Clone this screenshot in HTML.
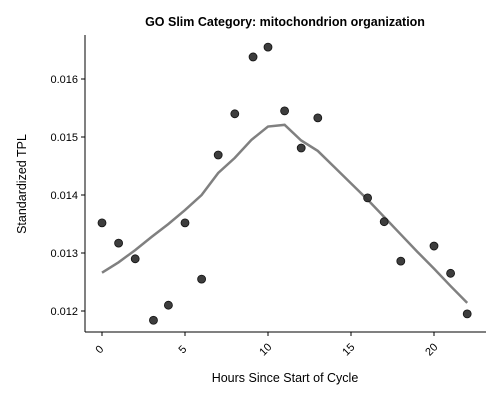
<!DOCTYPE html>
<html><head><meta charset="utf-8"><style>body{margin:0;background:#fff}svg{display:block;font-family:"Liberation Sans","DejaVu Sans",sans-serif}</style></head>
<body>
<svg id="chart" width="500" height="400">
<text x="285" y="26" text-anchor="middle" font-size="12.5" font-weight="bold">GO Slim Category: mitochondrion organization</text>
<line x1="85" y1="35" x2="85" y2="332" stroke="#000" stroke-width="1"/>
<line x1="85" y1="332" x2="486" y2="332" stroke="#000" stroke-width="1"/>
<text x="285" y="382" text-anchor="middle" font-size="12.5">Hours Since Start of Cycle</text>
<text transform="translate(26,184) rotate(-90)" text-anchor="middle" font-size="12.5">Standardized TPL</text>
<g id="ticks"></g><g id="line"></g><g id="points"></g>
</svg>
<script>
const xTicks=[0,5,10,15,20];
const yTicks=[0.012,0.013,0.014,0.015,0.016];
const yTickLabels=["0.012","0.013","0.014","0.015","0.016"];
const pointHours=[0,1,2,3.1,4,5,6,7,8,9.1,10,11,12,13,16,17,18,20,21,22];
const pointValues=[0.01352,0.01317,0.0129,0.01184,0.0121,0.01352,0.01255,0.01469,0.0154,0.01638,0.01655,0.01545,0.01481,0.01533,0.01395,0.01354,0.01286,0.01312,0.01265,0.01195];
const fitHours=[0,1,2,3,4,5,6,7,8,9,10,11,12,13,14,15,16,17,18,19,20,21,22];
const fitValues=[0.01266,0.01284,0.01305,0.01328,0.0135,0.01374,0.014,0.01438,0.01464,0.01495,0.01518,0.01521,0.01494,0.01476,0.01448,0.0142,0.01392,0.01362,0.01332,0.01302,0.01273,0.01243,0.01214];
const NS="http://www.w3.org/2000/svg";
const xs=h=>102+h*16.6;
const ys=v=>311-(v-0.012)*58000;
function mk(t,a,p){const e=document.createElementNS(NS,t);for(const k in a)e.setAttribute(k,a[k]);p.appendChild(e);return e;}
const tg=document.getElementById('ticks');
xTicks.forEach(t=>{
 const l=mk('line',{x1:xs(t),x2:xs(t),y1:332,y2:336,stroke:'#000'},tg);
 
 
 const tx=mk('text',{x:0,y:0,'font-size':11,'text-anchor':'middle',transform:`translate(${xs(t)},352) rotate(-45)`},tg);
 tx.textContent=t;
 
 
});
yTicks.forEach((t,i)=>{
 const l=mk('line',{x1:81,x2:85,y1:ys(t),y2:ys(t),stroke:'#000'},tg);
 
 
 const tx=mk('text',{x:78,y:ys(t)+4,'font-size':11,'text-anchor':'end'},tg);
 tx.textContent=yTickLabels[i];
 
 
});
const d=fitHours.map((h,i)=>(i?'L':'M')+xs(h)+','+ys(fitValues[i])).join('');
const p=mk('path',{d:d,fill:'none',stroke:'#808080','stroke-width':2.5},document.getElementById('line'));


const pg=document.getElementById('points');
pointHours.forEach((h,i)=>{
 const c=mk('circle',{cx:xs(h),cy:ys(pointValues[i]),r:4,fill:'#333',stroke:'#111','stroke-width':0.8,'fill-opacity':0.95},pg);
 
 
});
</script>
</body></html>
